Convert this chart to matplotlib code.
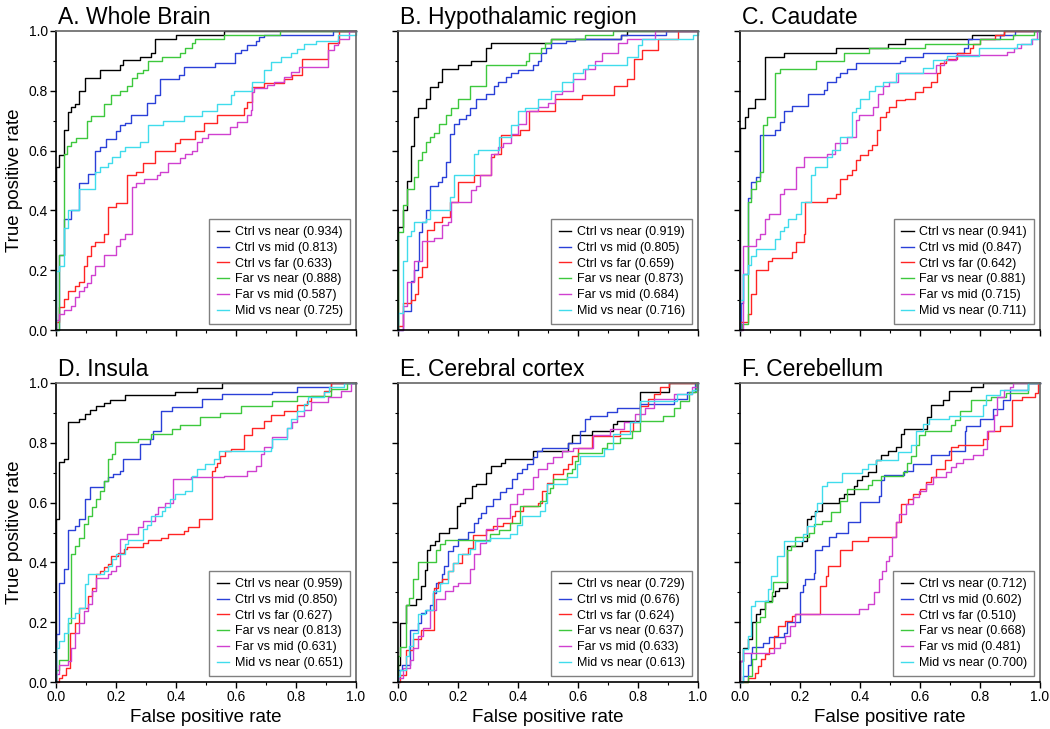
import matplotlib

matplotlib.use("Agg")
import matplotlib.pyplot as plt  # noqa: E402
from matplotlib.ticker import MultipleLocator  # noqa: E402

plt.rcParams["font.family"] = ["Liberation Sans", "DejaVu Sans"]

# ---------------------------------------------------------------------------
# Data: ROC step curves, as (false pos rate, true pos rate)
# breakpoints; at each x the curve jumps to the given y.
# ---------------------------------------------------------------------------

LABELS = ["Ctrl vs near", "Ctrl vs mid", "Ctrl vs far", "Far vs near", "Far vs mid", "Mid vs near"]
COLORS = ["#000000", "#2a40d8", "#ff2424", "#3dc83d", "#d040d0", "#40dcec"]

TITLES = ["A. Whole Brain", "B. Hypothalamic region", "C. Caudate",
          "D. Insula", "E. Cerebral cortex", "F. Cerebellum"]

A_AUC = [0.934, 0.813, 0.633, 0.888, 0.587, 0.725]
B_AUC = [0.919, 0.805, 0.659, 0.873, 0.684, 0.716]
C_AUC = [0.941, 0.847, 0.642, 0.881, 0.715, 0.711]
D_AUC = [0.959, 0.850, 0.627, 0.813, 0.631, 0.651]
E_AUC = [0.729, 0.676, 0.624, 0.637, 0.633, 0.613]
F_AUC = [0.712, 0.602, 0.510, 0.668, 0.481, 0.700]

# A. Whole brain
A_CTRL_NEAR = [(0, 0), (0, .544), (.011, .585), (.026, .67), (.039, .73), (.05, .745), (.064, .757),
               (.078, .80), (.095, .843), (.145, .871), (.212, .886), (.223, .902), (.279, .914),
               (.318, .928), (.33, .973), (.399, .987), (.56, 1)]
A_CTRL_MID = [(0, 0), (.011, .25), (.026, .372), (.05, .40), (.078, .493), (.106, .521), (.131, .60),
              (.145, .613), (.168, .639), (.201, .667), (.212, .684), (.229, .693), (.251, .72),
              (.302, .759), (.33, .785), (.346, .841), (.41, .854), (.425, .88), (.531, .894),
              (.598, .925), (.615, .936), (.637, .953), (.665, .967), (.676, .98), (.693, .986), (.922, 1)]
A_CTRL_FAR = [(0, 0), (0, .026), (.011, .078), (.026, .103), (.039, .131), (.064, .146), (.078, .16),
              (.093, .213), (.104, .249), (.117, .28), (.131, .294), (.16, .32), (.173, .411),
              (.201, .426), (.238, .518), (.268, .53), (.29, .56), (.33, .60), (.397, .625), (.413, .639),
              (.464, .667), (.492, .693), (.536, .72), (.626, .744), (.637, .763), (.654, .814),
              (.693, .825), (.76, .838), (.788, .853), (.821, .905), (.905, .96), (.944, 1)]
A_FAR_NEAR = [(0, 0), (.011, .252), (.026, .589), (.037, .617), (.05, .63), (.067, .641), (.104, .70),
              (.117, .715), (.16, .757), (.184, .785), (.212, .80), (.235, .815), (.254, .843),
              (.27, .858), (.29, .871), (.307, .90), (.354, .914), (.413, .928), (.43, .944),
              (.453, .96), (.464, .973), (.559, .987), (.746, 1)]
A_FAR_MID = [(0, 0), (0, .034), (.011, .054), (.026, .067), (.05, .081), (.064, .11), (.078, .129),
             (.093, .143), (.104, .157), (.117, .185), (.131, .213), (.16, .252), (.201, .28),
             (.212, .306), (.229, .32), (.254, .479), (.265, .493), (.294, .504), (.335, .519),
             (.346, .53), (.372, .56), (.413, .574), (.43, .589), (.453, .60), (.469, .628),
             (.486, .641), (.508, .654), (.579, .678), (.603, .697), (.637, .72), (.65, .736),
             (.654, .797), (.66, .808), (.704, .82), (.726, .83), (.76, .847), (.782, .864),
             (.81, .88), (.905, .936), (.927, .953), (.939, .972), (.975, 1)]
A_MID_NEAR = [(0, 0), (0, .198), (.011, .213), (.026, .342), (.039, .40), (.078, .471), (.131, .53),
              (.145, .544), (.173, .56), (.187, .578), (.212, .598), (.229, .613), (.279, .628),
              (.305, .687), (.358, .70), (.425, .715), (.486, .732), (.536, .755), (.584, .786),
              (.592, .80), (.654, .83), (.693, .87), (.715, .897), (.749, .914), (.782, .928),
              (.804, .94), (.827, .958), (.866, .965), (.939, .987), (1, 1)]

# B. Hypothalamic region
B_CTRL_NEAR = [(0, 0), (0, .344), (.015, .40), (.029, .50), (.042, .615), (.054, .713), (.065, .744),
               (.093, .772), (.107, .813), (.132, .83), (.148, .872), (.199, .886), (.243, .90),
               (.293, .942), (.31, .959), (.511, .973), (.745, .987), (.762, 1)]
B_CTRL_MID = [(0, 0), (.015, .065), (.042, .165), (.054, .20), (.067, .232), (.07, .327), (.081, .36),
              (.093, .40), (.107, .48), (.132, .495), (.148, .512), (.159, .562), (.174, .657),
              (.187, .69), (.204, .705), (.226, .718), (.24, .744), (.26, .772), (.293, .789),
              (.321, .816), (.333, .83), (.36, .845), (.377, .858), (.4, .87), (.45, .886),
              (.466, .90), (.477, .927), (.494, .942), (.509, .959), (.561, .968), (.589, .973),
              (.745, .987), (.893, 1)]
B_CTRL_FAR = [(0, 0), (0, .015), (.015, .09), (.042, .10), (.056, .12), (.067, .177), (.081, .21),
              (.096, .333), (.121, .36), (.148, .378), (.174, .428), (.199, .495), (.254, .52),
              (.31, .579), (.321, .59), (.344, .651), (.405, .668), (.438, .733), (.522, .772),
              (.612, .785), (.721, .816), (.762, .841), (.788, .905), (.815, .936), (.868, .973),
              (.935, 1)]
B_FAR_NEAR = [(0, 0), (0, .327), (.015, .417), (.029, .473), (.054, .512), (.067, .568), (.081, .596),
              (.093, .629), (.107, .646), (.12, .659), (.137, .69), (.159, .718), (.176, .744),
              (.199, .772), (.24, .817), (.293, .886), (.427, .90), (.438, .927), (.475, .942),
              (.489, .959), (.509, .973), (.623, .987), (.718, 1)]
B_FAR_MID = [(0, 0), (.015, .08), (.029, .16), (.054, .232), (.081, .297), (.121, .308), (.148, .35),
             (.165, .36), (.176, .428), (.243, .467), (.26, .48), (.274, .52), (.31, .59), (.333, .612),
             (.349, .626), (.377, .657), (.4, .69), (.427, .733), (.466, .746), (.5, .76), (.522, .789),
             (.545, .80), (.584, .841), (.623, .872), (.656, .90), (.679, .927), (.734, .959),
             (.762, .973), (.857, 1)]
B_MID_NEAR = [(0, 0), (0, .056), (.015, .232), (.029, .316), (.042, .331), (.054, .36), (.093, .37),
              (.107, .40), (.174, .445), (.185, .517), (.252, .59), (.268, .603), (.338, .646),
              (.377, .685), (.4, .733), (.422, .744), (.466, .771), (.509, .80), (.545, .83),
              (.584, .858), (.617, .872), (.634, .886), (.762, .914), (.801, .953), (.815, .973),
              (.985, .987), (1, 1)]

# C. Caudate
C_CTRL_NEAR = [(0, 0), (0, .674), (.015, .713), (.026, .744), (.05, .772), (.082, .914), (.146, .928),
               (.319, .942), (.493, .957), (.549, .972), (.773, .987), (.881, 1)]
C_CTRL_MID = [(0, 0), (.004, .09), (.011, .188), (.025, .44), (.037, .495), (.053, .512), (.065, .651),
              (.117, .668), (.132, .696), (.146, .733), (.174, .749), (.227, .789), (.28, .802),
              (.291, .83), (.319, .845), (.333, .86), (.358, .872), (.386, .894), (.532, .90),
              (.549, .914), (.61, .928), (.747, .942), (.761, .972), (.868, .987), (.918, 1)]
C_CTRL_FAR = [(0, 0), (0, .026), (.025, .054), (.037, .12), (.053, .20), (.093, .23), (.106, .241),
              (.174, .26), (.188, .294), (.213, .322), (.216, .428), (.291, .44), (.319, .456),
              (.333, .506), (.358, .52), (.373, .534), (.386, .568), (.4, .584), (.425, .601),
              (.44, .618), (.456, .668), (.467, .713), (.485, .73), (.496, .746), (.521, .769),
              (.549, .774), (.582, .797), (.61, .813), (.638, .83), (.655, .86), (.666, .892),
              (.686, .908), (.722, .925), (.767, .942), (.778, .957), (.801, .972), (.851, .987),
              (.88, 1)]
C_FAR_NEAR = [(0, 0), (.008, .02), (.025, .428), (.037, .473), (.053, .50), (.065, .528), (.078, .685),
              (.09, .713), (.118, .858), (.134, .872), (.252, .90), (.347, .928), (.429, .942),
              (.616, .957), (.801, .972), (.91, .987), (.98, 1)]
C_FAR_MID = [(0, 0), (.011, .28), (.053, .305), (.067, .322), (.082, .372), (.095, .389), (.132, .456),
             (.146, .47), (.185, .545), (.213, .577), (.291, .59), (.317, .626), (.358, .644),
             (.386, .702), (.397, .718), (.442, .746), (.459, .789), (.476, .816), (.498, .83),
             (.526, .858), (.653, .886), (.68, .903), (.72, .919), (.89, .93), (.913, .942),
             (.935, .957), (.974, .972), (.989, 1)]
C_MID_NEAR = [(0, 0), (0, .10), (.011, .188), (.025, .216), (.037, .246), (.053, .272), (.118, .305),
              (.132, .331), (.146, .344), (.16, .372), (.185, .389), (.202, .428), (.238, .52),
              (.25, .545), (.291, .577), (.308, .601), (.333, .644), (.373, .73), (.386, .744),
              (.4, .774), (.429, .80), (.451, .816), (.476, .83), (.521, .858), (.61, .875),
              (.644, .903), (.689, .916), (.795, .942), (.924, .957), (.969, .972), (.997, 1)]

# D. Insula
D_CTRL_NEAR = [(0, 0), (0, .545), (.011, .735), (.026, .746), (.039, .869), (.078, .88), (.095, .897),
               (.112, .91), (.134, .922), (.16, .933), (.179, .944), (.229, .959), (.397, .97),
               (.469, .984), (.553, 1)]
D_CTRL_MID = [(0, 0), (0, .159), (.011, .332), (.026, .377), (.039, .508), (.064, .522), (.078, .545),
              (.095, .612), (.112, .653), (.16, .673), (.173, .685), (.19, .696), (.212, .707),
              (.223, .746), (.279, .796), (.313, .813), (.324, .839), (.35, .906), (.386, .919),
              (.486, .947), (.553, .962), (.721, .971), (.802, .986), (.916, 1)]
D_CTRL_FAR = [(0, 0), (.01, .012), (.02, .025), (.033, .047), (.045, .164), (.064, .198), (.078, .248),
              (.106, .287), (.12, .315), (.134, .36), (.145, .371), (.16, .383), (.173, .396),
              (.184, .422), (.207, .433), (.227, .444), (.235, .452), (.29, .466), (.307, .474),
              (.35, .483), (.374, .494), (.425, .505), (.441, .519), (.475, .545), (.52, .707),
              (.53, .72), (.536, .733), (.547, .756), (.564, .773), (.583, .78), (.626, .825),
              (.654, .851), (.693, .873), (.715, .893), (.76, .907), (.804, .926), (.838, .941),
              (.849, .957), (.894, .974), (.916, 1)]
D_FAR_NEAR = [(0, 0), (0, .04), (.011, .072), (.039, .198), (.05, .427), (.064, .455), (.078, .483),
              (.093, .528), (.106, .556), (.12, .584), (.134, .612), (.145, .64), (.16, .673),
              (.173, .746), (.187, .763), (.198, .802), (.274, .813), (.318, .83), (.386, .846),
              (.413, .861), (.48, .886), (.547, .901), (.615, .924), (.721, .94), (.804, .957),
              (.916, .98), (.97, 1)]
D_FAR_MID = [(0, 0), (0, .027), (.011, .056), (.039, .07), (.05, .114), (.064, .164), (.078, .198),
             (.093, .237), (.106, .26), (.12, .304), (.134, .347), (.173, .36), (.184, .371),
             (.201, .388), (.212, .478), (.235, .494), (.274, .517), (.29, .539), (.33, .562),
             (.341, .584), (.363, .60), (.391, .679), (.45, .686), (.559, .69), (.637, .705),
             (.665, .722), (.682, .761), (.693, .787), (.721, .818), (.771, .851), (.788, .868),
             (.804, .89), (.827, .91), (.849, .935), (.905, .952), (.95, .974), (.983, 1)]
D_MID_NEAR = [(0, 0), (0, .114), (.011, .136), (.026, .164), (.039, .215), (.064, .232), (.078, .248),
              (.095, .329), (.106, .36), (.16, .371), (.173, .388), (.187, .41), (.201, .427),
              (.229, .461), (.24, .474), (.29, .511), (.302, .526), (.318, .556), (.352, .573),
              (.363, .584), (.38, .612), (.397, .629), (.43, .64), (.452, .69), (.469, .713),
              (.497, .73), (.525, .746), (.542, .772), (.715, .784), (.721, .814), (.771, .851),
              (.782, .879), (.802, .907), (.827, .929), (.84, .952), (.894, .969), (.911, .986),
              (.961, 1)]

# E. Cerebral cortex
E_CTRL_NEAR = [(0, 0), (0, .058), (.008, .198), (.026, .259), (.061, .276), (.078, .32), (.089, .376),
               (.095, .443), (.106, .457), (.123, .471), (.137, .50), (.17, .516), (.195, .587),
               (.206, .60), (.223, .617), (.248, .656), (.259, .661), (.295, .70), (.309, .723),
               (.345, .734), (.356, .745), (.451, .773), (.568, .799), (.579, .826), (.646, .84),
               (.718, .863), (.73, .874), (.807, .969), (.902, 1)]
E_CTRL_MID = [(0, 0), (0, .041), (.014, .058), (.039, .173), (.067, .198), (.078, .231), (.092, .242),
              (.106, .259), (.117, .298), (.128, .332), (.145, .36), (.153, .388), (.167, .438),
              (.184, .455), (.2, .477), (.234, .502), (.253, .533), (.267, .55), (.278, .566),
              (.295, .589), (.317, .611), (.34, .634), (.36, .65), (.379, .678), (.395, .70),
              (.412, .714), (.429, .728), (.451, .754), (.462, .773), (.479, .784), (.568, .80),
              (.607, .84), (.624, .879), (.64, .89), (.696, .904), (.729, .918), (.807, .93),
              (.919, .946), (.963, .969), (.991, 1)]
E_CTRL_FAR = [(0, 0), (.008, .025), (.026, .106), (.05, .144), (.078, .175), (.12, .315), (.134, .334),
              (.145, .345), (.167, .371), (.184, .399), (.212, .427), (.234, .449), (.251, .492),
              (.295, .508), (.317, .522), (.351, .533), (.379, .555), (.39, .572), (.415, .589),
              (.468, .60), (.479, .639), (.496, .667), (.518, .695), (.551, .712), (.568, .728),
              (.579, .756), (.601, .784), (.646, .823), (.741, .84), (.785, .868), (.807, .924),
              (.835, .946), (.852, .963), (.874, .985), (.902, 1)]
E_FAR_NEAR = [(0, 0), (0, .086), (.008, .117), (.026, .259), (.037, .28), (.05, .343), (.067, .401),
              (.128, .443), (.139, .46), (.156, .475), (.306, .494), (.337, .51), (.373, .533),
              (.406, .589), (.473, .606), (.493, .631), (.507, .65), (.518, .678), (.562, .70),
              (.579, .712), (.59, .74), (.601, .765), (.679, .784), (.696, .799), (.741, .815),
              (.78, .84), (.807, .874), (.885, .89), (.919, .915), (.941, .941), (.969, .969), (.994, 1)]
E_FAR_MID = [(0, 0), (0, .013), (.017, .047), (.039, .075), (.05, .114), (.067, .153), (.084, .181),
             (.106, .242), (.128, .276), (.156, .304), (.184, .321), (.2, .332), (.239, .377),
             (.253, .427), (.273, .466), (.295, .511), (.329, .55), (.373, .594), (.395, .628),
             (.418, .645), (.451, .684), (.468, .712), (.496, .734), (.518, .751), (.546, .773),
             (.585, .784), (.651, .826), (.707, .846), (.752, .87), (.791, .896), (.824, .918),
             (.852, .946), (.919, .963), (.98, .985), (.997, 1)]
E_MID_NEAR = [(0, 0), (0, .019), (.008, .041), (.026, .086), (.037, .12), (.05, .164), (.067, .226),
              (.089, .242), (.117, .304), (.139, .332), (.167, .371), (.184, .399), (.2, .427),
              (.239, .444), (.256, .472), (.306, .48), (.373, .494), (.395, .524), (.412, .555),
              (.473, .572), (.49, .60), (.496, .661), (.562, .684), (.596, .728), (.607, .756),
              (.685, .779), (.718, .829), (.774, .868), (.807, .941), (.93, .963), (.98, .975), (1, 1)]

# F. Cerebellum
F_CTRL_NEAR = [(0, 0), (0, .07), (.011, .115), (.025, .145), (.041, .199), (.053, .227), (.067, .244),
               (.082, .272), (.106, .288), (.117, .305), (.131, .316), (.156, .456), (.207, .473),
               (.223, .545), (.235, .556), (.251, .573), (.274, .60), (.33, .615), (.346, .629),
               (.38, .657), (.391, .674), (.408, .688), (.425, .704), (.453, .744), (.469, .758),
               (.492, .771), (.52, .785), (.536, .83), (.547, .845), (.622, .886), (.637, .925),
               (.676, .942), (.698, .972), (.771, .987), (.81, 1)]
F_CTRL_MID = [(0, 0), (.011, .02), (.025, .056), (.037, .098), (.04, .118), (.078, .132), (.095, .149),
              (.145, .165), (.156, .199), (.199, .30), (.209, .324), (.218, .344), (.246, .366),
              (.251, .44), (.274, .456), (.296, .484), (.321, .50), (.36, .534), (.399, .603),
              (.464, .623), (.469, .674), (.48, .693), (.547, .707), (.575, .73), (.637, .76),
              (.698, .774), (.749, .841), (.754, .856), (.799, .88), (.844, .914), (.877, .942),
              (.899, .975), (.961, 1)]
F_CTRL_FAR = [(0, 0), (.028, .015), (.05, .031), (.061, .054), (.07, .076), (.084, .092), (.095, .115),
              (.112, .154), (.128, .188), (.151, .204), (.173, .221), (.184, .227), (.265, .322),
              (.285, .355), (.294, .389), (.332, .44), (.374, .47), (.425, .484), (.52, .534),
              (.536, .596), (.559, .612), (.575, .629), (.6, .646), (.62, .668), (.637, .685),
              (.654, .713), (.682, .741), (.704, .786), (.726, .793), (.81, .813), (.827, .841),
              (.866, .856), (.905, .942), (.939, .953), (.983, .968), (.994, 1)]
F_FAR_NEAR = [(0, 0), (.025, .02), (.041, .076), (.053, .2), (.067, .216), (.082, .266), (.106, .30),
              (.11, .333), (.156, .44), (.17, .456), (.184, .484), (.229, .498), (.246, .528),
              (.274, .54), (.302, .568), (.332, .607), (.357, .644), (.425, .659), (.441, .674),
              (.469, .688), (.542, .704), (.555, .733), (.57, .755), (.587, .791), (.598, .827),
              (.615, .841), (.704, .858), (.718, .875), (.732, .905), (.771, .942), (.838, .953),
              (.888, .968), (.961, 1)]
F_FAR_MID = [(0, 0), (0, .07), (.011, .098), (.112, .115), (.134, .132), (.151, .154), (.168, .188),
             (.184, .227), (.397, .244), (.425, .26), (.447, .30), (.464, .344), (.473, .372),
             (.486, .406), (.497, .422), (.508, .484), (.52, .534), (.531, .562), (.553, .596),
             (.575, .618), (.598, .64), (.62, .663), (.642, .685), (.687, .702), (.704, .718),
             (.721, .733), (.743, .746), (.777, .76), (.81, .78), (.823, .838), (.846, .892),
             (.855, .953), (.879, .975), (.899, .987), (.911, 1)]
F_MID_NEAR = [(0, 0), (.011, .112), (.025, .154), (.037, .255), (.05, .272), (.093, .31), (.104, .355),
              (.123, .422), (.145, .473), (.209, .495), (.223, .523), (.251, .568), (.257, .60),
              (.274, .657), (.291, .668), (.341, .70), (.408, .713), (.425, .73), (.453, .741),
              (.525, .769), (.57, .793), (.587, .841), (.609, .864), (.631, .88), (.698, .889),
              (.81, .927), (.821, .961), (.866, .975), (.961, 1)]

PANELS = [
    ([A_CTRL_NEAR, A_CTRL_MID, A_CTRL_FAR, A_FAR_NEAR, A_FAR_MID, A_MID_NEAR], A_AUC),
    ([B_CTRL_NEAR, B_CTRL_MID, B_CTRL_FAR, B_FAR_NEAR, B_FAR_MID, B_MID_NEAR], B_AUC),
    ([C_CTRL_NEAR, C_CTRL_MID, C_CTRL_FAR, C_FAR_NEAR, C_FAR_MID, C_MID_NEAR], C_AUC),
    ([D_CTRL_NEAR, D_CTRL_MID, D_CTRL_FAR, D_FAR_NEAR, D_FAR_MID, D_MID_NEAR], D_AUC),
    ([E_CTRL_NEAR, E_CTRL_MID, E_CTRL_FAR, E_FAR_NEAR, E_FAR_MID, E_MID_NEAR], E_AUC),
    ([F_CTRL_NEAR, F_CTRL_MID, F_CTRL_FAR, F_FAR_NEAR, F_FAR_MID, F_MID_NEAR], F_AUC),
]


def draw_panel(ax, title, curves, aucs, show_x, show_y):
    for pts, color, label, auc in zip(curves, COLORS, LABELS, aucs):
        xs = [p[0] for p in pts]
        ys = [p[1] for p in pts]
        if xs[-1] < 1:
            xs.append(1.0)
            ys.append(ys[-1])
        ax.plot(xs, ys, drawstyle="steps-post", color=color, lw=1.0,
                label=f"{label} ({auc:.3f})", clip_on=False)

    ax.set_xlim(0, 1)
    ax.set_ylim(0, 1)
    for axis in (ax.xaxis, ax.yaxis):
        axis.set_major_locator(MultipleLocator(0.2))
        axis.set_minor_locator(MultipleLocator(0.1))
    ax.tick_params(which="major", direction="out", length=4, width=1, labelsize=10,
                   top=False, right=False, labelbottom=show_x, labelleft=show_y, pad=2)
    ax.tick_params(which="minor", direction="out", length=2.5, width=0.8, top=False, right=False)

    for side in ("left", "bottom"):
        ax.spines[side].set_color("black")
        ax.spines[side].set_linewidth(1.2)
    for side in ("top", "right"):
        ax.spines[side].set_color("#666666")
        ax.spines[side].set_linewidth(1.2)

    ax.text(0.005, 1.025, title, transform=ax.transAxes, fontsize=16.5,
            ha="left", va="baseline")
    if show_x:
        ax.set_xlabel("False positive rate", fontsize=13.5, labelpad=3)
    if show_y:
        ax.set_ylabel("True positive rate", fontsize=13.5, labelpad=4)

    leg = ax.legend(loc="lower right", fontsize=9, frameon=True, fancybox=False,
                    edgecolor="#808080", framealpha=1, borderpad=0.6, handlelength=1.0,
                    handletextpad=0.45, labelspacing=0.3, borderaxespad=0.45)
    leg.get_frame().set_linewidth(1.0)


def main():
    fig = plt.figure(figsize=(10.5, 7.29), dpi=100)
    lefts = [56 / 1050, 398 / 1050, 740 / 1050]
    width = 300 / 1050
    bottoms = [(729 - 330) / 729, (729 - 682) / 729]
    height = 299 / 729

    for i, (title, (curves, aucs)) in enumerate(zip(TITLES, PANELS)):
        row, col = divmod(i, 3)
        ax = fig.add_axes([lefts[col], bottoms[row], width, height])
        draw_panel(ax, title, curves, aucs, show_x=(row == 1), show_y=(col == 0))

    fig.savefig("out.png", dpi=100)
    plt.close(fig)


if __name__ == "__main__":
    main()
